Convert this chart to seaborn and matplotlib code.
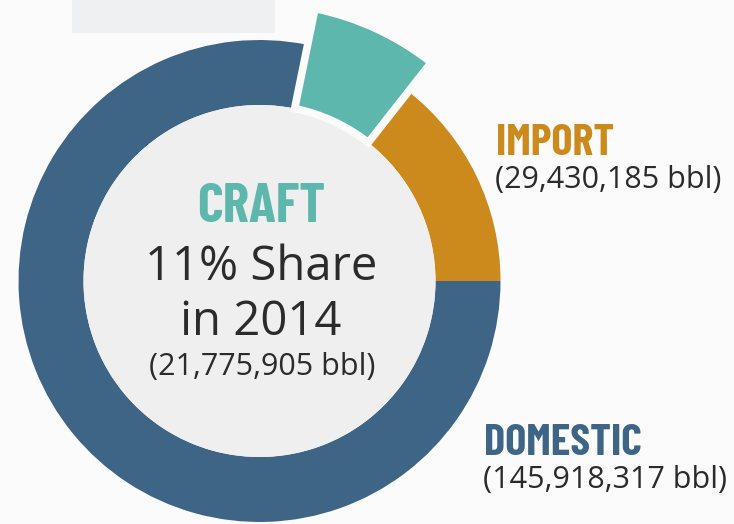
import matplotlib
matplotlib.use("Agg")
import matplotlib.pyplot as plt
import seaborn as sns
from matplotlib.patches import Circle, Rectangle

# ---- data ----
segments = ["IMPORT", "CRAFT", "DOMESTIC"]
barrels = [29430185, 21775905, 145918317]
drawn_share_pct = [14.4, 7.4, 78.2]   # slice sizes as drawn in the graphic
craft_share_label = "11% Share"
year_label = "in 2014"

seg_colors = sns.color_palette(["#cc8a1c", "#5db7ad", "#3f6586"])
bg = "#fbfbfb"
inner_col = "#efefef"
text_dark = "#2b2b2b"

sns.set_theme(style="white")
plt.rcParams["font.family"] = ["Open Sans", "DejaVu Sans"]
narrow = ["Barlow Condensed", "Liberation Sans Narrow", "DejaVu Sans"]

W, H = 734, 524
fig = plt.figure(figsize=(W / 100, H / 100), dpi=100, facecolor=bg)
ax = fig.add_axes([0, 0, 1, 1])
ax.set_facecolor(bg)

# ring geometry in pixel units (y measured upward)
cx, cy = 259.5, H - 281
r_out, r_in = 241, 176
r_craft = 278

wedges, _ = ax.pie(drawn_share_pct, colors=seg_colors, startangle=0,
                   counterclock=True, radius=r_out, center=(cx, cy),
                   wedgeprops=dict(width=r_out - r_in, linewidth=0))

# craft slice sticks out past the ring, separated by white gaps
craft = wedges[1]
craft.set_radius(r_craft)
craft.set_width(r_craft - r_in)
craft.set_edgecolor(bg)
craft.set_linewidth(5.5)
craft.set_zorder(3)

ax.add_patch(Circle((cx, cy), r_in, facecolor=inner_col, edgecolor="none", zorder=1))
# light panel peeking in at the top
ax.add_patch(Rectangle((72, H - 33), 203, 40, facecolor="#eef0f2", edgecolor="none", zorder=0))

ax.set_xlim(0, W)
ax.set_ylim(0, H)
ax.set_aspect("equal")
ax.axis("off")

# ---- centre text ----
tx = 261
ax.text(tx, H - 222, segments[1], ha="center", va="baseline", fontsize=40,
        fontweight="bold", color=seg_colors[1], family=narrow, zorder=5)
ax.text(tx, H - 280, craft_share_label, ha="center", va="baseline", fontsize=34,
        color=text_dark, zorder=5)
ax.text(tx, H - 335, year_label, ha="center", va="baseline", fontsize=34,
        color=text_dark, zorder=5)
ax.text(tx + 1, H - 375, f"({barrels[1]:,} bbl)", ha="center", va="baseline",
        fontsize=22, color=text_dark, zorder=5)

# ---- side labels ----
ax.text(496, H - 155, segments[0], ha="left", va="baseline", fontsize=32,
        fontweight="bold", color=seg_colors[0], family=narrow)
ax.text(495, H - 188, f"({barrels[0]:,} bbl)", ha="left", va="baseline",
        fontsize=22, color=text_dark)
ax.text(484, H - 455, segments[2], ha="left", va="baseline", fontsize=32,
        fontweight="bold", color=seg_colors[2], family=narrow)
ax.text(483, H - 488, f"({barrels[2]:,} bbl)", ha="left", va="baseline",
        fontsize=22, color=text_dark)

fig.savefig("out.png", dpi=100, facecolor=bg)
